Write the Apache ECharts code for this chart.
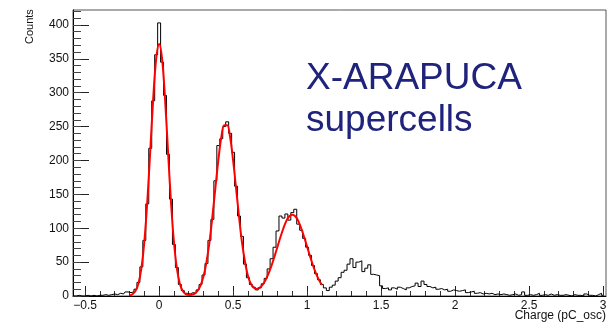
<!DOCTYPE html>
<html>
<head>
<meta charset="utf-8">
<script src="https://cdn.jsdelivr.net/npm/echarts@6/dist/echarts.min.js"></script>
<style>
html,body{margin:0;padding:0;background:#fff;}
#chart{width:614px;height:323px;}
</style>
</head>
<body>
<div id="chart"></div>
<script>
// Histogram: bin centres start at histStart, spaced by histWidth
const histStart = -0.58;
const histWidth = 0.02;
const histCounts = [
  0, 0, 1, 0, 0, 1, 0, 1, 0, 1,
  1, 2, 1, 2, 3, 2, 4, 3, 6, 5,
  6, 10, 20, 43, 82, 136, 218, 288, 356, 403,
  345, 296, 209, 143, 76, 42, 17, 8, 4, 3,
  5, 4, 9, 17, 31, 48, 82, 113, 170, 222,
  232, 250, 257, 240, 212, 162, 118, 88, 47, 27,
  17, 13, 9, 12, 18, 26, 40, 55, 72, 96,
  118, 115, 121, 112, 123, 128, 106, 97, 85, 72,
  60, 45, 33, 24, 17, 12, 8, 13, 16, 22,
  27, 35, 38, 47, 55, 42, 50, 52, 36, 41,
  46, 32, 31, 30, 15, 11, 12, 9, 12, 10,
  13, 11, 9, 12, 14, 15, 19, 14, 22, 17,
  14, 12, 13, 10, 11, 9, 10, 7, 9, 8,
  7, 8, 9, 5, 6, 7, 4, 5, 3, 4,
  3, 4, 2, 3, 2, 3, 2, 1, 2, 3,
  1, 2, 6, 1, 2, 1, 2, 4, 1, 2,
  1, 3, 1, 2, 1, 1, 2, 1, 0, 2,
  1, 1, 0, 3, 1, 1, 0, 2, 4, 1
];

// Fit curve (red)
const fitStart = -0.20;
const fitStep = 0.02;
const fitValues = [
  0.8, 2.5, 7.2, 18.2, 40.6, 80, 139, 214, 291, 350,
  372, 350, 291, 214, 139, 80, 40.6, 18.2, 7.2, 2.7,
  1.4, 1.9, 3.6, 7.8, 15.7, 29, 50, 79, 117, 159,
  200, 234, 252, 252, 234, 200, 159, 117, 79, 51,
  30, 18, 12, 10.3, 12.3, 16.8, 23.8, 33.4, 45, 58.4,
  72.8, 87, 100, 110.8, 117.6, 120, 117.6, 110.8, 100, 87,
  72.8, 58.4, 45, 33.4, 23.8, 16.2
];

const xMajorTicks = [-0.5, 0, 0.5, 1, 1.5, 2, 2.5, 3];
const xMinorTicks = [];
for (let k = -5; k <= 30; k++) xMinorTicks.push(+(k * 0.1).toFixed(2));
const yMajorTicks = [0, 50, 100, 150, 200, 250, 300, 350, 400];
const yMinorTicks = [];
for (let k = 0; k <= 42; k++) yMinorTicks.push(k * 10);

const xTitle = 'Charge (pC_osc)';
const yTitle = 'Counts';
const noteLines = ['X-ARAPUCA', 'supercells'];

const histData = histCounts.map((c, i) => [+(histStart + i * histWidth).toFixed(3), c]);
const fitData = fitValues.map((v, i) => [+(fitStart + i * fitStep).toFixed(3), v]);

const FONT = '"Liberation Sans", Arial, Helvetica, sans-serif';
const X_MIN = -0.582, X_MAX = 3.02, Y_MIN = 0, Y_MAX = 422;

const chart = echarts.init(document.getElementById('chart'), null, {renderer: 'canvas'});
chart.setOption({
  animation: false,
  backgroundColor: '#ffffff',
  grid: {left: 73, right: 8, top: 10, bottom: 27, show: true, borderColor: '#555', borderWidth: 1, backgroundColor: 'transparent'},
  xAxis: [
    {
      type: 'value', min: X_MIN, max: X_MAX, position: 'bottom',
      axisLine: {show: true, onZero: false, lineStyle: {color: '#000', width: 1}},
      axisTick: {show: true, inside: true, length: 10, customValues: xMajorTicks, lineStyle: {color: '#222'}},
      axisLabel: {show: true, customValues: xMajorTicks, margin: 4, fontSize: 12, fontFamily: FONT, color: '#111',
        formatter: v => String(v).replace('-', '\u2212')},
      splitLine: {show: false}
    },
    {
      type: 'value', min: X_MIN, max: X_MAX, position: 'bottom',
      axisLine: {show: false, onZero: false},
      axisTick: {show: true, inside: true, length: 5, customValues: xMinorTicks, lineStyle: {color: '#333'}},
      axisLabel: {show: false},
      splitLine: {show: false}
    }
  ],
  yAxis: [
    {
      type: 'value', min: Y_MIN, max: Y_MAX, position: 'left',
      axisLine: {show: true, onZero: false, lineStyle: {color: '#000', width: 1}},
      axisTick: {show: true, inside: true, length: 16, customValues: yMajorTicks, lineStyle: {color: '#222'}},
      axisLabel: {show: true, customValues: yMajorTicks, margin: 4, fontSize: 12, fontFamily: FONT, color: '#111'},
      splitLine: {show: false}
    },
    {
      type: 'value', min: Y_MIN, max: Y_MAX, position: 'left',
      axisLine: {show: false, onZero: false},
      axisTick: {show: true, inside: true, length: 8, customValues: yMinorTicks, lineStyle: {color: '#444'}},
      axisLabel: {show: false},
      splitLine: {show: false}
    }
  ],
  series: [
    {
      type: 'line', name: 'hist', xAxisIndex: 0, yAxisIndex: 0,
      data: histData, step: 'middle', symbol: 'none', clip: true,
      lineStyle: {color: '#000', width: 1}, z: 3
    },
    {
      type: 'line', name: 'fit', xAxisIndex: 0, yAxisIndex: 0,
      data: fitData, smooth: 0.35, symbol: 'none', clip: true,
      lineStyle: {color: '#ff0000', width: 2}, z: 4
    }
  ],
  graphic: [
    {type: 'text', x: 606, y: 310, style: {text: xTitle, font: '12px ' + FONT, fill: '#111', textAlign: 'right', textVerticalAlign: 'top'}},
    {type: 'text', x: 24, y: 44, rotation: Math.PI / 2,
      style: {text: yTitle, font: '11px ' + FONT, fill: '#111', textAlign: 'left', textVerticalAlign: 'top'}},
    {type: 'text', x: 306, y: 79, style: {text: noteLines[0], font: '37px ' + FONT, fill: '#1f237c', textVerticalAlign: 'middle'}},
    {type: 'text', x: 306, y: 121, style: {text: noteLines[1], font: '37px ' + FONT, fill: '#1f237c', textVerticalAlign: 'middle'}}
  ]
});
</script>
</body>
</html>
